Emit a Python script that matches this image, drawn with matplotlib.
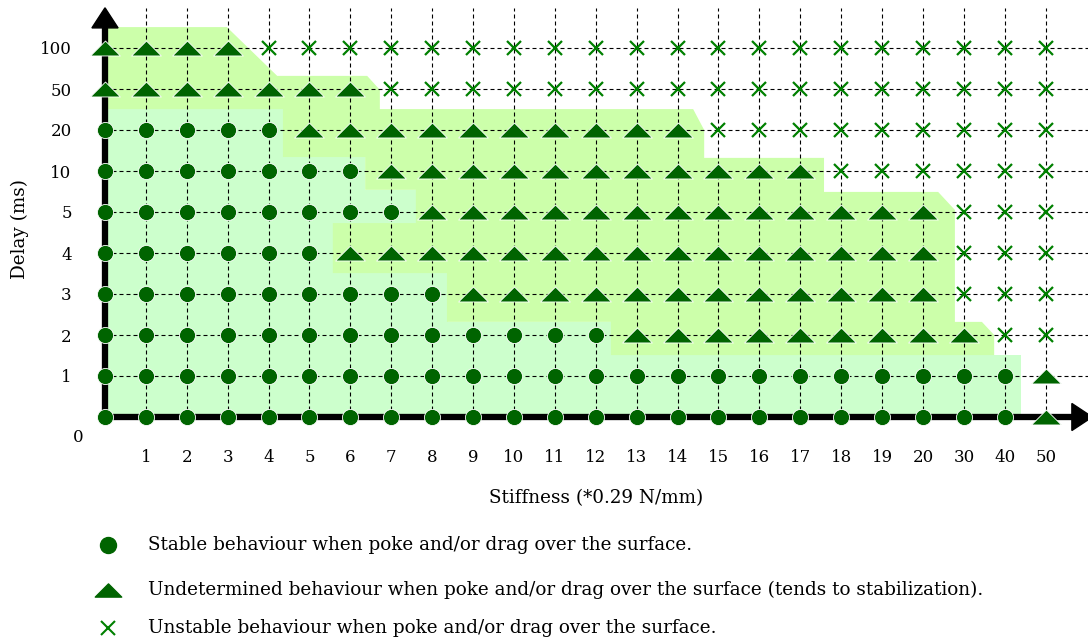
import matplotlib
matplotlib.use("Agg")
import matplotlib.pyplot as plt
from matplotlib.path import Path
from matplotlib.patches import Polygon, FancyArrow
import numpy as np

# ---------------- data ----------------
stiffness_labels = ['', '1', '2', '3', '4', '5', '6', '7', '8', '9', '10', '11', '12',
                    '13', '14', '15', '16', '17', '18', '19', '20', '30', '40', '50']
delay_labels = ['0', '1', '2', '3', '4', '5', '10', '20', '50', '100']

# behaviour per delay row (bottom -> top), one char per stiffness column
# o = stable, t = undetermined, x = unstable
behaviour_rows = [
    'ooooooooooooooooooooooot',   # delay 0
    'ooooooooooooooooooooooot',   # delay 1
    'oooooooooooootttttttttxx',   # delay 2
    'ooooooooottttttttttttxxx',   # delay 3
    'oooooottttttttttttttt' + 'xxx',  # delay 4
    'oooooooottttttttttttt' + 'xxx',  # delay 5
    'oooooootttttttttttxxxxxx',   # delay 10
    'ooooottttttttttxxxxxxxxx',   # delay 20
    'tttttttxxxxxxxxxxxxxxxxx',   # delay 50
    'ttttxxxxxxxxxxxxxxxxxxxx',   # delay 100
]

legend_texts = [
    'Stable behaviour when poke and/or drag over the surface.',
    'Undetermined behaviour when poke and/or drag over the surface (tends to stabilization).',
    'Unstable behaviour when poke and/or drag over the surface.',
]

# shaded zones (in grid-cell units)
stable_zone_x = [0, 22.40, 22.40, 12.37, 12.37, 8.38, 8.38, 7.6, 7.6, 6.36, 6.36, 4.35, 4.35, 0]
stable_zone_y = [0, 0, 1.51, 1.51, 2.32, 2.32, 4.73, 4.73, 5.54, 5.54, 6.34, 6.34, 7.51, 7.51]
undet_zone_x = [0, 2.98, 4.21, 6.41, 6.72, 6.72, 14.38, 14.65, 14.65, 17.58, 17.58, 20.37,
                20.78, 20.78, 21.44, 21.74, 21.74, 12.37, 12.37, 8.36, 8.36, 5.57, 5.57,
                7.6, 7.6, 6.36, 6.36, 4.35, 4.35, 0]
undet_zone_y = [9.51, 9.51, 8.32, 8.32, 7.98, 7.51, 7.51, 7.0, 6.32, 6.32, 5.49, 5.49,
                5.05, 2.32, 2.32, 2.0, 1.51, 1.51, 2.32, 2.32, 3.51, 3.51, 4.73,
                4.73, 5.54, 5.54, 6.34, 6.34, 7.51, 7.51]

# ---------------- style ----------------
plt.rcParams['font.family'] = ['DejaVu Serif']
FS_TICK = 12
FS = 13.2
DARK = '#006400'
XCOL = '#008000'
STABLE_BG = '#ccffcc'
UNDET_BG = '#ccffaa'

tri = Path([(-1, -0.5), (1, -0.5), (0, 0.5), (-1, -0.5)],
           [Path.MOVETO, Path.LINETO, Path.LINETO, Path.CLOSEPOLY])

fig = plt.figure(figsize=(10.88, 6.44), dpi=100)
W, H = 1088, 644
x0, x1, ytop, ybot = 105, 1088, 8, 417
ax = fig.add_axes([x0 / W, 1 - ybot / H, (x1 - x0) / W, (ybot - ytop) / H])
ax.set_xlim(0, (x1 - x0) / 40.9)
ax.set_ylim(0, (ybot - ytop) / 41.0)
for s in ax.spines.values():
    s.set_visible(False)
ax.patch.set_alpha(0)

ncol = len(stiffness_labels)
nrow = len(delay_labels)
ax.set_xticks(np.arange(ncol))
ax.set_xticklabels(stiffness_labels, fontsize=FS_TICK)
ax.set_yticks(np.arange(nrow))
ax.set_yticklabels([''] + delay_labels[1:], fontsize=FS_TICK)
ax.tick_params(axis='x', length=0, pad=23)
ax.tick_params(axis='y', length=0, pad=24)
ax.set_axisbelow(True)
ax.grid(True, color='black', lw=0.8, linestyle=(0, (3.6, 2.7)))

ax.add_patch(Polygon(np.column_stack([stable_zone_x, stable_zone_y]), closed=True,
                     fc=STABLE_BG, ec='none', zorder=0.2, clip_on=False))
ax.add_patch(Polygon(np.column_stack([undet_zone_x, undet_zone_y]), closed=True,
                     fc=UNDET_BG, ec='none', zorder=0.3, clip_on=False))

# axes arrows
ax.add_patch(FancyArrow(0, 0, 0, 9.98, width=0.12, head_width=0.64, head_length=0.49,
                        length_includes_head=True, color='black', zorder=3, clip_on=False))
ax.add_patch(FancyArrow(0, 0, 24.14, 0, width=0.12, head_width=0.66, head_length=0.5,
                        length_includes_head=True, color='black', zorder=3, clip_on=False))

# markers
for r, row in enumerate(behaviour_rows):
    for c, ch in enumerate(row):
        if ch == 'o':
            ax.plot(c, r, marker='o', ms=11.6, color=DARK, mec='white', mew=0.6,
                    ls='none', zorder=5, clip_on=False)
        elif ch == 't':
            ax.plot(c, r, marker=tri, ms=21.5, color=DARK, mec='white', mew=0.6,
                    ls='none', zorder=5, clip_on=False)
        else:
            ax.plot(c, r, marker='x', ms=10.5, color=XCOL, mew=1.6,
                    ls='none', zorder=5, clip_on=False)

# corner zero
ax.text(-0.66, -0.49, delay_labels[0], fontsize=FS_TICK, ha='center', va='center')

ax.set_xlabel('Stiffness (*0.29 N/mm)', fontsize=FS)
ax.xaxis.label.set_va('center')
ax.xaxis.set_label_coords((596 - x0) / (x1 - x0), (ybot - 498) / (ybot - ytop))
ax.set_ylabel('Delay (ms)', fontsize=FS)
ax.yaxis.label.set_va('center')
ax.yaxis.set_label_coords((20 - x0) / (x1 - x0), (ybot - 229) / (ybot - ytop))

# legend (manual)
leg_y = [-3.12, -4.22, -5.15]
ax.plot(0.07, leg_y[0], marker='o', ms=11.5, color=DARK, ls='none', clip_on=False)
ax.plot(0.07, leg_y[1], marker=tri, ms=19, color=DARK, ls='none', clip_on=False)
ax.plot(0.07, leg_y[2], marker='x', ms=10, color=XCOL, mew=1.5, ls='none', clip_on=False)
for y, t in zip(leg_y, legend_texts):
    ax.text(1.05, y, t, fontsize=FS, ha='left', va='center')

fig.savefig('out.png', dpi=100)
